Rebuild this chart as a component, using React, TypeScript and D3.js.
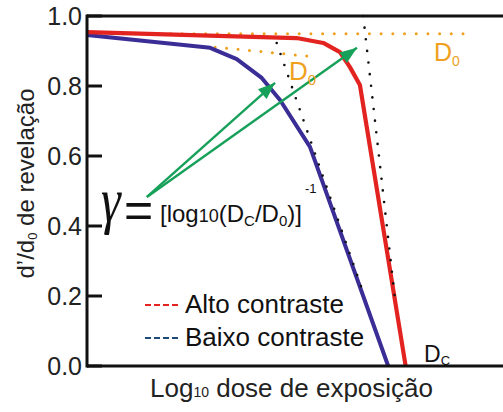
import React from "react";
import * as d3 from "d3";

const W = 503;
const H = 412;

// x: log10 exposure dose (arbitrary units), y: normalized developed thickness d'/d0
const yTicks = [0.0, 0.2, 0.4, 0.6, 0.8, 1.0];

const highX = [0, 2.52, 2.84, 3.04, 3.16, 3.28, 3.83];
const highY = [0.954, 0.937, 0.923, 0.897, 0.854, 0.803, 0.0];

const lowX = [0, 1.48, 1.8, 2.1, 2.32, 2.68, 3.62];
const lowY = [0.946, 0.909, 0.877, 0.823, 0.76, 0.626, 0.0];

// guide lines (dotted)
const d0UpperX = [0.16, 4.57];
const d0UpperY = [0.949, 0.949];
const d0LowerX = [1.54, 2.76];
const d0LowerY = [0.911, 0.883];
const tangentHighX = [3.32, 3.71];
const tangentHighY = [1.0, 0.174];
const tangentLowX = [2.28, 3.3];
const tangentLowY = [0.923, 0.223];

// green arrows
const arrowStart = [0.72, 0.483];
const arrowTipsX = [2.26, 3.245];
const arrowTipsY = [0.809, 0.909];

const legendLabels = ["Alto contraste", "Baixo contraste"];

const RED = "#e3231f";
const BLUE = "#3a2d96";
const GREEN = "#17a05a";
const ORANGE = "#f0a01e";
const FONT = "'Liberation Sans', Arial, sans-serif";

export default function App() {
  const x = d3.scaleLinear().domain([0, 5]).range([87, 503]);
  const y = d3.scaleLinear().domain([0, 1]).range([366, 16]);

  const line = d3
    .line<[number, number]>()
    .x((d) => x(d[0]))
    .y((d) => y(d[1]));

  const zip = (a: number[], b: number[]) => a.map((v, i) => [v, b[i]] as [number, number]);

  const dotted = (xs: number[], ys: number[], color: string, w: number, gap: number) => (
    <path
      d={line(zip(xs, ys)) || ""}
      fill="none"
      stroke={color}
      strokeWidth={w}
      strokeLinecap="round"
      strokeDasharray={`0 ${gap}`}
    />
  );

  return (
    <svg
      width={W}
      height={H}
      style={{ position: "absolute", left: 0, top: 0, background: "#fff" }}
      fontFamily={FONT}
    >
      <defs>
        <marker
          id="ah"
          markerUnits="userSpaceOnUse"
          markerWidth={20}
          markerHeight={16}
          viewBox="0 -8 18 16"
          refX={17}
          refY={0}
          orient="auto"
        >
          <path d="M0,-6.5 L17,0 L0,6.5 Z" fill={GREEN} />
        </marker>
      </defs>
      <rect width={W} height={H} fill="#fff" />

      {/* orange D0 guides */}
      {dotted(d0UpperX, d0UpperY, ORANGE, 3, 11.7)}
      {dotted(d0LowerX, d0LowerY, ORANGE, 3, 11.5)}

      {/* curves */}
      <path d={line(zip(lowX, lowY)) || ""} fill="none" stroke={BLUE} strokeWidth={4} strokeLinejoin="round" />
      <path d={line(zip(highX, highY)) || ""} fill="none" stroke={RED} strokeWidth={4.2} strokeLinejoin="round" />

      {/* black tangents */}
      {dotted(tangentHighX, tangentHighY, "#111", 2.6, 11.7)}
      {dotted(tangentLowX, tangentLowY, "#111", 2.6, 11.7)}

      {/* green arrows */}
      {arrowTipsX.map((tx, i) => (
        <line
          key={i}
          x1={x(arrowStart[0])}
          y1={y(arrowStart[1])}
          x2={x(tx)}
          y2={y(arrowTipsY[i])}
          stroke={GREEN}
          strokeWidth={2.4}
          markerEnd="url(#ah)"
        />
      ))}

      {/* axes */}
      <line x1={x(0)} y1={y(0)} x2={W} y2={y(0)} stroke="#111" strokeWidth={3} />
      <line x1={x(0)} y1={y(1)} x2={W} y2={y(1)} stroke="#111" strokeWidth={3} />
      <line x1={x(0)} y1={y(1) - 1.5} x2={x(0)} y2={y(0) + 1.5} stroke="#111" strokeWidth={3} />
      {yTicks.map((t) => (
        <g key={t}>
          <line x1={x(0)} x2={x(0) + 15} y1={y(t)} y2={y(t)} stroke="#111" strokeWidth={3} />
          <text x={82} y={y(t)} dy="0.36em" textAnchor="end" fontSize={25} fill="#222">
            {d3.format(".1f")(t)}
          </text>
        </g>
      ))}

      {/* axis titles */}
      <text
        transform={`translate(34,${183.5}) rotate(-90)`}
        textAnchor="middle"
        fontSize={24}
        fill="#222"
      >
        d’/d
        <tspan fontSize={13} dy={3}>0</tspan>
        <tspan dy={-3}> de revelação</tspan>
      </text>
      <text x={150} y={397} fontSize={26} fill="#222">
        Log
        <tspan fontSize={14}>10</tspan>
        <tspan> dose de exposição</tspan>
      </text>

      {/* D labels */}
      <text x={289} y={80} fontSize={26} fill={ORANGE}>
        D<tspan fontSize={15} dy={5}>0</tspan>
      </text>
      <text x={434} y={61} fontSize={25} fill={ORANGE}>
        D<tspan fontSize={14} dy={5}>0</tspan>
      </text>
      <text x={424} y={362} fontSize={23} fill="#111">
        D<tspan fontSize={13} dy={3}>C</tspan>
      </text>

      {/* formula */}
      <text
        transform="translate(101,221) scale(1,1.25)"
        fontSize={50}
        fontFamily="'Liberation Serif', 'Times New Roman', serif"
        fontStyle="italic"
        fill="#111"
      >
        γ
      </text>
      <text x={124} y={227} fontSize={50} fill="#111">
        =
      </text>
      <text x={160} y={222} fontSize={24} fill="#111">
        [log
        <tspan fontSize={18}>10</tspan>
        <tspan>(D</tspan>
        <tspan fontSize={15} dy={4}>C</tspan>
        <tspan dy={-4}>/D</tspan>
        <tspan fontSize={15} dy={4}>0</tspan>
        <tspan dy={-4}>)]</tspan>
      </text>
      <text x={305} y={193} fontSize={13} fill="#111">
        -1
      </text>

      {/* legend */}
      {legendLabels.map((lab, i) => (
        <g key={lab}>
          <line
            x1={145}
            x2={179}
            y1={305 + i * 33}
            y2={305 + i * 33}
            stroke={i === 0 ? RED : "#1e4a7a"}
            strokeWidth={2}
            strokeDasharray="6 3"
          />
          <text x={185} y={313 + i * 33} fontSize={26} fill="#111">
            {lab}
          </text>
        </g>
      ))}
    </svg>
  );
}
